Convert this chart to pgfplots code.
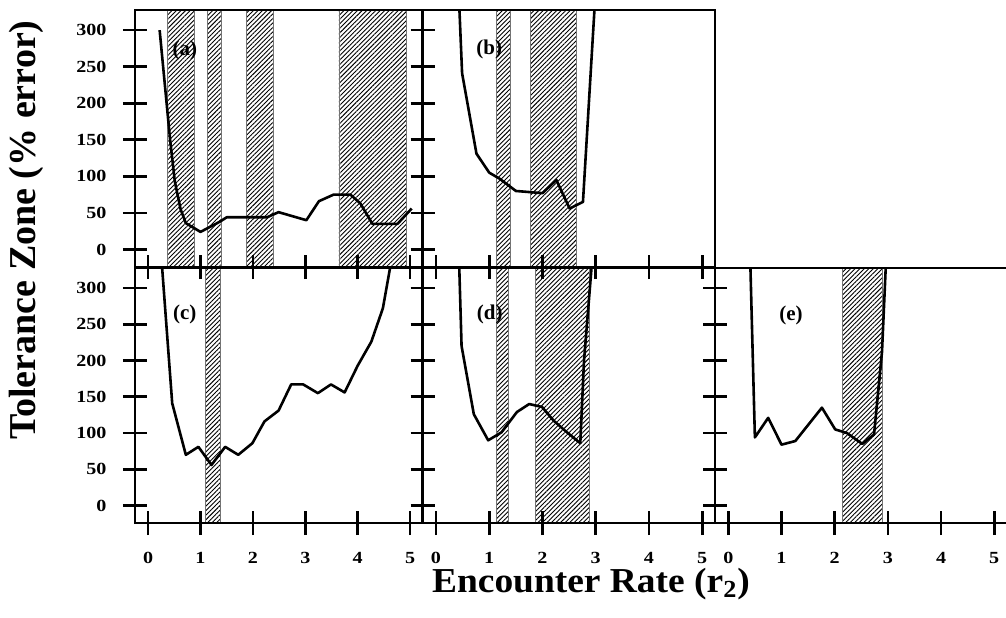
\documentclass[border=0pt]{standalone}
\usepackage{fontspec}
\setmainfont{Liberation Serif}
\usepackage{pgfplots}
\pgfplotsset{compat=1.18}
\usetikzlibrary{patterns.meta}

\pgfplotsset{
  panel/.style={
    scale only axis,
    xmin=-0.25, xmax=5.24, ymin=-24, ymax=327.5,
    xtick={0,1,...,5}, ytick={0,50,...,300},
    tick align=center, xtick pos=bottom, ytick pos=left,
    major tick length=12pt,
    tick style={black, line width=1.3pt},
    axis line style={line width=1.4pt},
    /pgf/number format/assume math mode=true,
    tick label style={font=\bfseries\fontsize{8.5}{8.5}\selectfont, xscale=1.18},
    xticklabel style={yshift=-5pt},
    yticklabel style={xshift=-3.5pt},
    axis on top,
  },
  curve/.style={black, line width=1.3pt, mark=none, line join=round},
  band/.style={draw=black!55, line width=0.3pt,
    pattern={Lines[angle=45,distance=1.6pt,line width=0.45pt]}},
}
\newcommand{\lab}{\bfseries\fontsize{10.5}{10.5}\selectfont}

\begin{document}
\begin{tikzpicture}
\path[use as bounding box] (-67.5pt,-47pt) rectangle (435.5pt,261.5pt);

% (a)
\begin{axis}[panel, at={(0pt,128pt)}, anchor=south west,
  width=143.85pt, height=128.5pt, xticklabels={}]
\addplot[band] coordinates {(0.37,-40) (0.37,340) (0.88,340) (0.88,-40)} -- cycle;
\addplot[band] coordinates {(1.13,-40) (1.13,340) (1.39,340) (1.39,-40)} -- cycle;
\addplot[band] coordinates {(1.88,-40) (1.88,340) (2.39,340) (2.39,-40)} -- cycle;
\addplot[band] coordinates {(3.64,-40) (3.64,340) (4.92,340) (4.92,-40)} -- cycle;
\addplot[curve] coordinates {
  (0.22,300) (0.42,150) (0.51,93) (0.62,55) (0.72,36) (1.0,24) (1.37,38)
  (1.5,44) (2.27,44) (2.49,51) (3.02,40) (3.26,66) (3.54,75) (3.86,75)
  (4.05,63) (4.28,35) (4.76,35) (5.03,56)
};
\node[font=\lab] at (axis cs:0.7,272) {(a)};
\end{axis}

% (b)
\begin{axis}[panel, at={(143.85pt,128pt)}, anchor=south west,
  width=146.15pt, height=128.5pt, xticklabels={}, yticklabels={}]
\addplot[band] coordinates {(1.13,-40) (1.13,340) (1.39,340) (1.39,-40)} -- cycle;
\addplot[band] coordinates {(1.77,-40) (1.77,340) (2.64,340) (2.64,-40)} -- cycle;
\addplot[curve] coordinates {
  (0.43,345) (0.49,241) (0.76,131) (1.0,105) (1.19,97) (1.5,80) (2.0,77)
  (2.26,95) (2.51,56) (2.76,65) (2.99,345)
};
\node[font=\lab] at (axis cs:1.0,273) {(b)};
\end{axis}

% (c)
\begin{axis}[panel, at={(0pt,0pt)}, anchor=south west,
  width=143.85pt, height=127.5pt]
\addplot[band] coordinates {(1.10,-40) (1.10,340) (1.37,340) (1.37,-40)} -- cycle;
\addplot[curve] coordinates {
  (0.25,345) (0.46,141) (0.72,70) (0.96,81) (1.21,56) (1.47,81) (1.72,70)
  (1.99,86) (2.22,116) (2.49,131) (2.73,167) (2.96,167) (3.24,155) (3.49,167)
  (3.75,156) (4.0,193) (4.26,226) (4.48,272) (4.66,345)
};
\node[font=\lab] at (axis cs:0.7,263) {(c)};
\end{axis}

% (d)
\begin{axis}[panel, at={(143.85pt,0pt)}, anchor=south west,
  width=146.15pt, height=127.5pt, yticklabels={}]
\addplot[band] coordinates {(1.14,-40) (1.14,340) (1.36,340) (1.36,-40)} -- cycle;
\addplot[band] coordinates {(1.86,-40) (1.86,340) (2.88,340) (2.88,-40)} -- cycle;
\addplot[curve] coordinates {
  (0.43,345) (0.48,220) (0.71,126) (0.98,90) (1.23,101) (1.52,129) (1.75,140)
  (1.99,136) (2.21,117) (2.46,101) (2.71,86) (2.78,200) (2.94,345)
};
\node[font=\lab] at (axis cs:1.01,264) {(d)};
\end{axis}

% (e)
\begin{axis}[panel, at={(290pt,0pt)}, anchor=south west,
  width=146pt, height=127.5pt, yticklabels={}]
\addplot[band] coordinates {(2.14,-40) (2.14,340) (2.89,340) (2.89,-40)} -- cycle;
\addplot[curve] coordinates {
  (0.41,345) (0.50,94) (0.75,121) (1.0,84) (1.26,89) (1.51,112) (1.76,135)
  (2.01,105) (2.23,100) (2.52,85) (2.74,98) (2.89,212) (2.97,345)
};
\node[font=\lab] at (axis cs:1.18,262) {(e)};
\end{axis}

\node[rotate=90, font=\bfseries\fontsize{19}{19}\selectfont] at (-54.5pt,146.5pt)
  {Tolerance Zone (\% error)};
\node[anchor=base, xscale=1.07, font=\bfseries\fontsize{17.5}{17.5}\selectfont]
  at (228pt,-34.5pt) {Encounter Rate (r\textsubscript{2})};
\end{tikzpicture}
\end{document}
